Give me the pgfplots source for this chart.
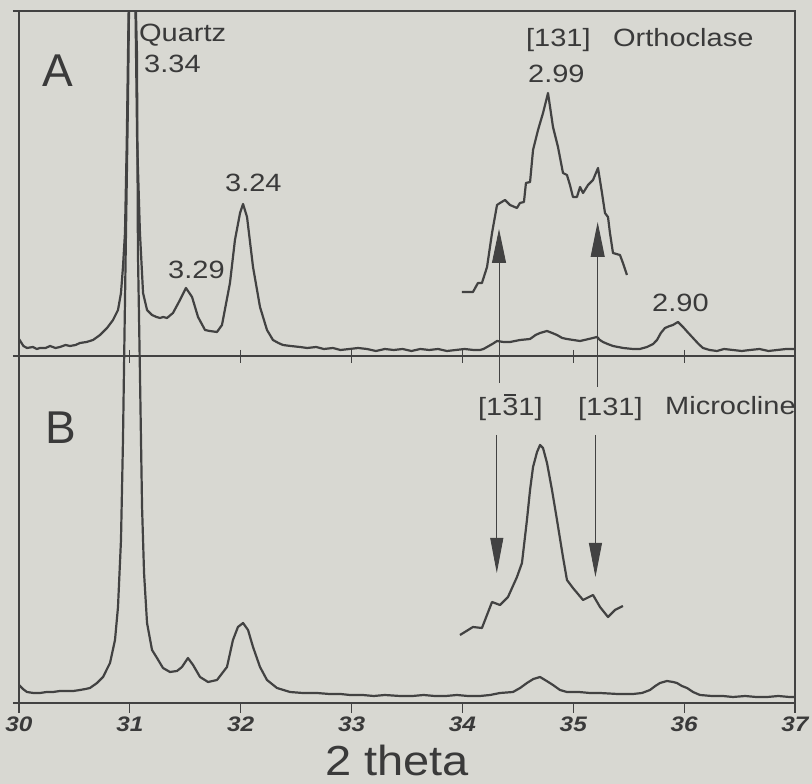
\documentclass[border=0pt]{standalone}
\usepackage{pgfplots}
\pgfplotsset{compat=1.18}
\usepackage{fontspec}
\setmainfont{Liberation Sans}
\newfontfamily\lab[FakeStretch=1.16]{Liberation Sans}
\newfontfamily\xlab[FakeStretch=1.12]{Liberation Sans}
\usetikzlibrary{arrows.meta}
\definecolor{paper}{RGB}{216,216,210}
\definecolor{ink}{RGB}{66,66,66}
\definecolor{txt}{RGB}{58,58,58}
\newcommand\barthree{\rlap{\kern0.08em\rule[0.8em]{0.48em}{0.07em}}3}
\begin{document}
\begin{tikzpicture}[x=1pt,y=1pt]
\fill[paper] (0,0) rectangle (812,784);
\useasboundingbox (0,0) rectangle (812,784);
\begin{axis}[
  at={(19pt,81pt)}, anchor=south west, scale only axis,
  width=776pt, height=692pt,
  xmin=30, xmax=37, ymin=0, ymax=692,
  clip mode=individual,
  axis line style={ink, line width=1.1pt},
  xtick={30,31,32,33,34,35,36,37}, xtick pos=bottom,
  tick align=outside, major tick length=10pt,
  tick style={ink, line width=1.1pt},
  ytick=\empty,
  /pgf/number format/assume math mode=true,
  xticklabel style={font=\lab\bfseries\itshape\fontsize{21}{21}\selectfont, text=txt},
  cycle list={{ink, line width=2.2pt, line join=round, mark=none}},
]
% --- trace A (upper panel, offset above the middle line) ---
\addplot[ink, line width=2.2pt, line join=round, mark=none] table {
30.000 364
30.040 357
30.072 355
30.126 356
30.160 354
30.189 355
30.240 355
30.280 357
30.330 355
30.370 356
30.420 358
30.460 357
30.510 358
30.550 360
30.610 361
30.668 363
30.731 368
30.794 375
30.848 383
30.893 393
30.920 410
30.938 436
30.956 470
30.972 560
30.990 700
31.020 900
31.050 700
31.066 560
31.091 470
31.119 410
31.155 393
31.200 388
31.240 386
31.272 385
31.300 386
31.335 385
31.389 390
31.452 403
31.506 415
31.561 406
31.615 386
31.678 373
31.720 372
31.786 371
31.831 378
31.903 420
31.948 463
31.994 490
32.021 499
32.057 486
32.111 436
32.174 396
32.237 373
32.291 363
32.340 360
32.381 358
32.450 357
32.535 356
32.600 355
32.680 356
32.750 354
32.832 355
32.900 353
32.980 354
33.060 355
33.139 354
33.220 352
33.300 354
33.380 353
33.460 354
33.540 352
33.620 354
33.700 353
33.780 354
33.860 352
33.940 353
34.020 354
34.100 353
34.158 353
34.190 354
34.222 356
34.270 359
34.312 362
34.370 361
34.429 361
34.520 363
34.610 364
34.660 368
34.700 370
34.763 372
34.810 370
34.853 368
34.900 365
34.943 364
35.000 363
35.061 362
35.140 364
35.214 366
35.240 363
35.268 361
35.310 359
35.358 357
35.450 355
35.539 354
35.600 354
35.665 356
35.720 359
35.755 363
35.790 370
35.827 375
35.870 377
35.899 378
35.944 381
35.990 376
36.030 371
36.080 365
36.130 359
36.170 355
36.230 353
36.296 352
36.360 354
36.440 353
36.520 352
36.594 353
36.680 354
36.760 352
36.840 353
36.920 354
37.000 354
};
% --- A magnified inset ---
\addplot[ink, line width=2.2pt, line join=round, mark=none] table {
33.996 411
34.095 411
34.140 420
34.176 420
34.222 436
34.267 470
34.312 498
34.339 500
34.384 503
34.429 498
34.492 495
34.519 500
34.555 501
34.573 520
34.610 521
34.637 553
34.682 573
34.727 590
34.772 610
34.817 576
34.862 556
34.907 530
34.943 528
34.970 518
34.997 506
35.033 506
35.061 516
35.088 510
35.133 518
35.178 523
35.223 535
35.259 510
35.286 490
35.313 486
35.331 470
35.358 450
35.421 448
35.448 440
35.484 428
};
% --- trace B (lower panel) ---
\addplot[ink, line width=2.2pt, line join=round, mark=none] table {
30.000 18
30.036 14
30.072 11
30.130 10
30.189 10
30.250 11
30.307 11
30.370 12
30.433 12
30.490 12
30.550 13
30.600 14
30.640 15
30.704 20
30.758 26
30.821 40
30.866 63
30.893 96
30.920 163
30.938 263
30.947 333
30.965 470
30.983 603
30.992 690
31.020 1100
31.055 690
31.064 650
31.073 450
31.091 330
31.110 196
31.128 130
31.155 80
31.200 53
31.245 45
31.299 35
31.362 31
31.425 32
31.470 36
31.524 45
31.570 38
31.633 26
31.705 21
31.786 23
31.876 36
31.930 63
31.975 76
32.021 80
32.066 73
32.111 56
32.174 36
32.237 23
32.327 15
32.445 11
32.560 10
32.688 10
32.800 9
32.900 9
32.986 8
33.100 8
33.200 7
33.300 8
33.437 7
33.550 7
33.650 8
33.750 7
33.850 7
33.950 8
34.050 7
34.158 7
34.250 8
34.339 10
34.456 11
34.520 15
34.582 20
34.640 24
34.700 26
34.760 22
34.817 18
34.880 13
34.943 11
35.050 11
35.150 10
35.241 10
35.400 9
35.539 9
35.620 10
35.692 13
35.740 17
35.782 20
35.845 22
35.900 21
35.935 20
35.980 17
36.026 15
36.080 11
36.143 8
36.250 7
36.350 7
36.441 6
36.550 7
36.650 6
36.750 6
36.850 7
36.950 6
37.000 6
};
% --- B magnified inset ---
\addplot[ink, line width=2.2pt, line join=round, mark=none] table {
33.978 68
34.095 76
34.176 75
34.267 101
34.339 98
34.411 106
34.492 126
34.537 140
34.582 183
34.610 213
34.637 236
34.673 251
34.700 258
34.727 255
34.763 240
34.808 213
34.853 183
34.907 146
34.943 123
34.997 115
35.088 103
35.178 108
35.241 96
35.313 86
35.376 93
35.448 97
};
% --- frame details: middle dividing line with its ticks, short left extensions ---
\draw[ink, line width=1.1pt] (axis cs:29.945,347) -- (axis cs:37,347);
\draw[ink, line width=1.1pt] (axis cs:29.945,692) -- (axis cs:30,692);
\draw[ink, line width=1.1pt] (axis cs:29.945,0) -- (axis cs:30,0);
\pgfplotsinvokeforeach{31,32,33,34,35,36}{\draw[ink, line width=1.1pt] (axis cs:#1,353) -- (axis cs:#1,340);}
% --- arrows ---
\draw[ink, line width=0.9pt, -{Triangle[length=34pt,width=14pt]}] (axis cs:34.33,320) -- (axis cs:34.33,474);
\draw[ink, line width=0.9pt, -{Triangle[length=35pt,width=14pt]}] (axis cs:35.22,316) -- (axis cs:35.22,481);
\draw[ink, line width=0.9pt, -{Triangle[length=35pt,width=13pt]}] (axis cs:34.31,268) -- (axis cs:34.31,130);
\draw[ink, line width=0.9pt, -{Triangle[length=34pt,width=13pt]}] (axis cs:35.20,268) -- (axis cs:35.20,126);
% --- labels ---
\begin{scope}[every node/.style={inner sep=0pt, anchor=base west, text=txt}]
\node[font=\fontsize{46}{46}\selectfont] at (axis cs:30.207,616) {A};
\node[font=\fontsize{46}{46}\selectfont] at (axis cs:30.235,259) {B};
\node[font=\lab\fontsize{25}{25}\selectfont] at (axis cs:31.082,661) {Quartz};
\node[font=\lab\fontsize{25}{25}\selectfont] at (axis cs:31.128,630) {3.34};
\node[font=\lab\fontsize{25}{25}\selectfont] at (axis cs:31.344,424) {3.29};
\node[font=\lab\fontsize{25}{25}\selectfont] at (axis cs:31.858,511) {3.24};
\node[font=\lab\fontsize{25}{25}\selectfont] at (axis cs:34.573,656) {[131]};
\node[font=\lab\fontsize{25}{25}\selectfont] at (axis cs:35.358,656) {Orthoclase};
\node[font=\lab\fontsize{25}{25}\selectfont] at (axis cs:34.591,620) {2.99};
\node[font=\lab\fontsize{25}{25}\selectfont] at (axis cs:35.710,391) {2.90};
\node[font=\lab\fontsize{25}{25}\selectfont] at (axis cs:34.140,287) {[1\barthree1]};
\node[font=\lab\fontsize{25}{25}\selectfont] at (axis cs:35.042,287) {[131]};
\node[font=\lab\fontsize{25}{25}\selectfont] at (axis cs:35.827,288) {Microcline};
\end{scope}
\node[inner sep=0pt, anchor=base, text=txt, font=\xlab\fontsize{42}{42}\selectfont] at ([yshift=-73pt]axis cs:33.41,0) {2 theta};
\end{axis}
\end{tikzpicture}
\end{document}
